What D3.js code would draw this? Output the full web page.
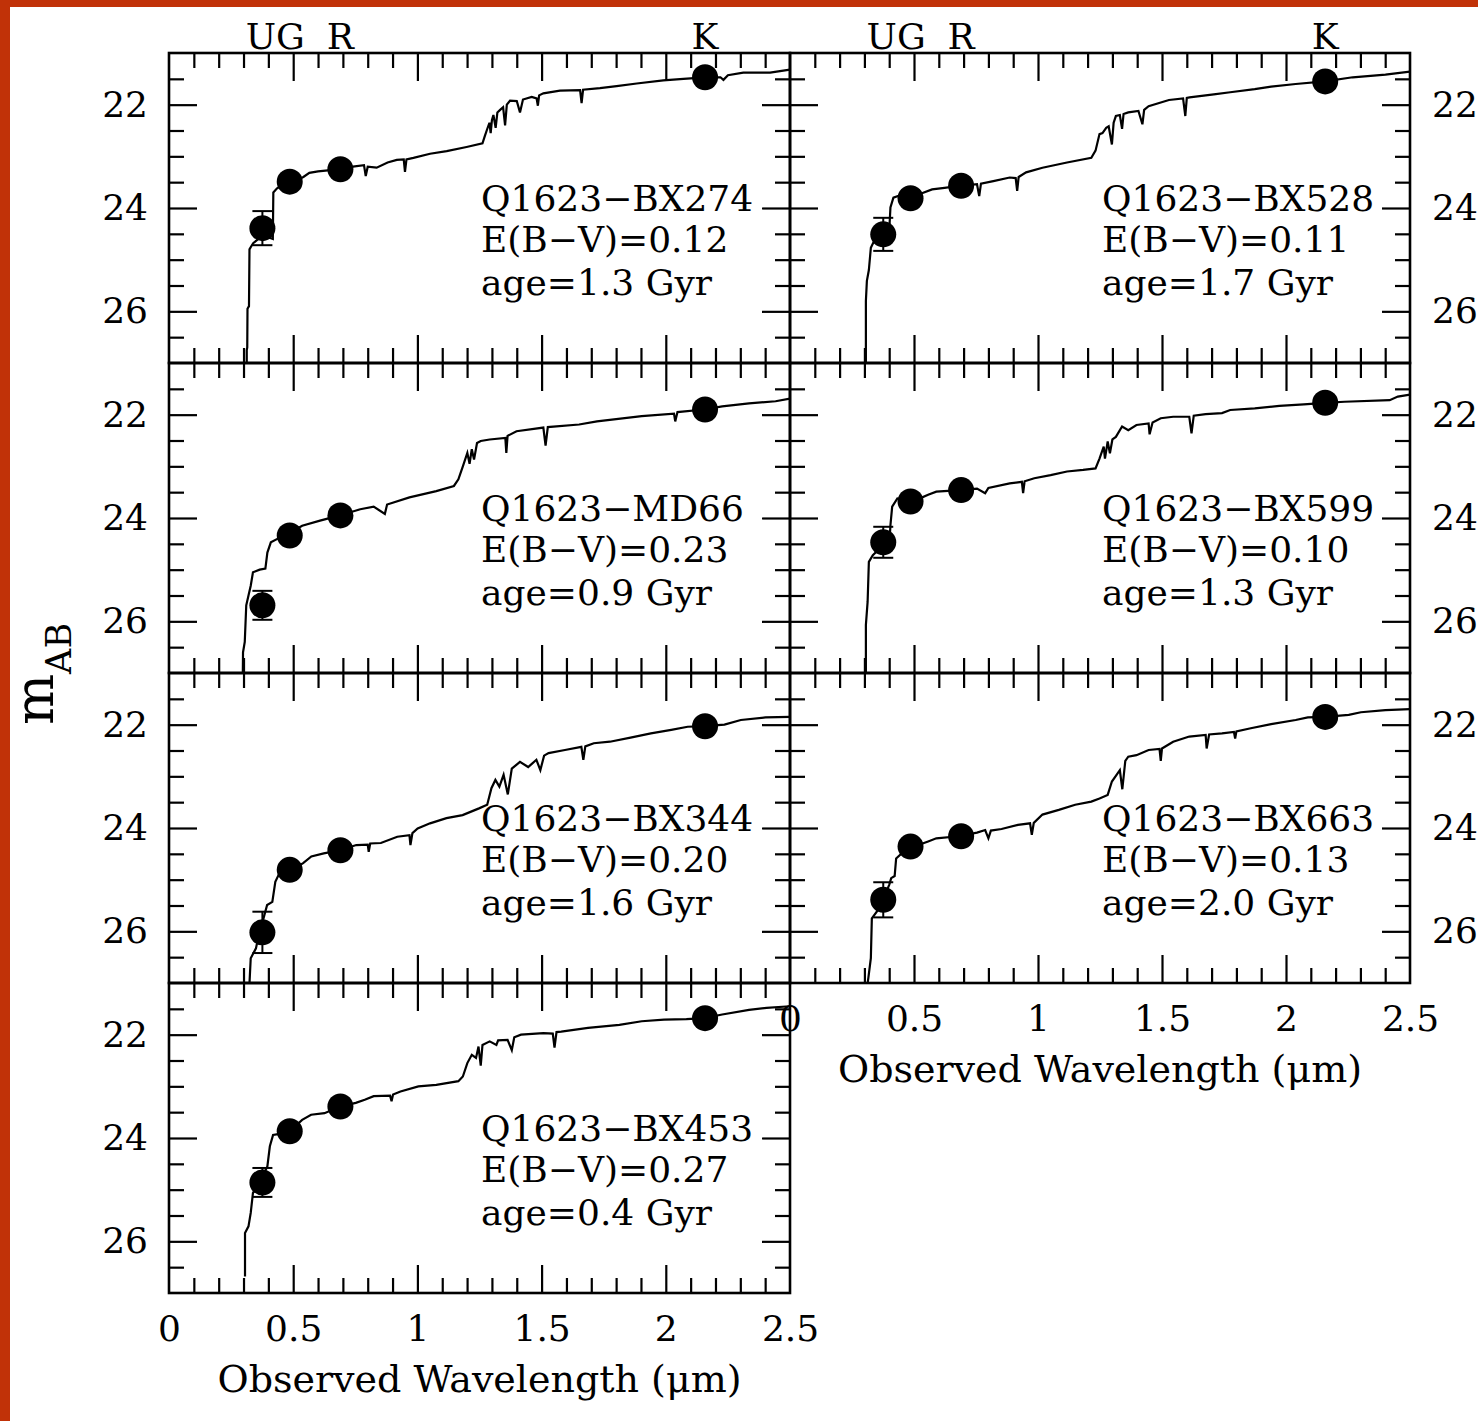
<!DOCTYPE html>
<html>
<head>
<meta charset="utf-8">
<script src="https://cdn.jsdelivr.net/npm/d3@7"></script>
<style>
  html, body { margin: 0; padding: 0; background: #fff; }
  svg { display: block; }
  text { font-family: "DejaVu Serif", serif; fill: #000; }
</style>
</head>
<body>
<svg id="chart" width="1478" height="1421"></svg>
<script>
// ---- Galaxies (one panel each) ----
const galaxyNames = ["Q1623−BX274", "Q1623−BX528", "Q1623−MD66", "Q1623−BX599",
                     "Q1623−BX344", "Q1623−BX663", "Q1623−BX453"];
const ebvValues = [0.12, 0.11, 0.23, 0.10, 0.20, 0.13, 0.27];
const ageGyr    = [1.3, 1.7, 0.9, 1.3, 1.6, 2.0, 0.4];

// ---- Broad-band photometry (AB mag) ----
const filterNames = ["U", "G", "R", "K"];
const filterWave  = [0.376, 0.486, 0.690, 2.158];   // microns
const magU = [24.39, 24.51, 25.69, 24.47, 26.02, 25.39, 24.86];
const errU = [0.33, 0.32, 0.28, 0.30, 0.40, 0.34, 0.28];
const magG = [23.49, 23.81, 24.34, 23.68, 24.81, 24.36, 23.87];
const magR = [23.25, 23.57, 23.95, 23.46, 24.43, 24.16, 23.39];
const magK = [21.47, 21.55, 21.90, 21.77, 22.03, 21.85, 21.68];
const errK = [0.08, 0.08, 0.08, 0.08, 0.08, 0.08, 0.08];

// ---- Best-fit model spectra: [observed wavelength (micron), m_AB] ----
const sedBX274 = [[0.313,27.1],[0.313,26.75],[0.315,26.7],[0.316,25.95],[0.322,25.9],[0.324,24.8],[0.33,24.75],
  [0.339,24.68],[0.36,24.6],[0.39,24.55],[0.418,24.6],[0.42,23.7],[0.435,23.62],[0.46,23.55],[0.49,23.5],
  [0.52,23.45],[0.541,23.4],[0.565,23.32],[0.6,23.29],[0.64,23.27],[0.686,23.25],[0.74,23.2],[0.785,23.17],
  [0.792,23.38],[0.8,23.2],[0.836,23.22],[0.88,23.12],[0.917,23.07],[0.945,23.06],[0.95,23.3],[0.956,23.06],
  [0.984,23.03],[1.051,22.95],[1.118,22.9],[1.198,22.82],[1.262,22.75],[1.272,22.6],[1.279,22.5],[1.29,22.35],
  [1.295,22.55],[1.3,22.3],[1.306,22.2],[1.315,22.45],[1.322,22.15],[1.333,22.1],[1.345,22.05],[1.353,22.4],
  [1.36,22.0],[1.373,21.92],[1.4,21.93],[1.413,22.15],[1.425,21.9],[1.46,21.85],[1.48,21.88],[1.485,22.02],
  [1.49,21.82],[1.507,21.78],[1.574,21.73],[1.655,21.72],[1.661,21.97],[1.667,21.71],[1.735,21.68],
  [1.802,21.64],[1.883,21.59],[1.99,21.53],[2.071,21.5],[2.158,21.47],[2.22,21.47],[2.232,21.52],
  [2.25,21.43],[2.312,21.38],[2.42,21.38],[2.473,21.34],[2.5,21.32]];
const sedBX528 = [[0.306,27.1],[0.306,25.8],[0.31,25.41],[0.318,25.2],[0.326,24.77],[0.343,24.6],[0.37,24.52],
  [0.4,24.45],[0.405,23.99],[0.417,23.8],[0.458,23.73],[0.49,23.76],[0.524,23.73],[0.573,23.64],[0.623,23.61],
  [0.685,23.57],[0.754,23.54],[0.763,23.77],[0.77,23.53],[0.82,23.48],[0.886,23.41],[0.91,23.42],[0.916,23.67],
  [0.922,23.4],[0.952,23.31],[1.018,23.22],[1.117,23.12],[1.215,23.03],[1.232,22.89],[1.248,22.57],[1.26,22.55],
  [1.275,22.45],[1.285,22.42],[1.298,22.77],[1.305,22.35],[1.314,22.22],[1.33,22.2],[1.339,22.47],[1.345,22.18],
  [1.364,22.15],[1.405,22.12],[1.421,22.38],[1.428,22.1],[1.446,22.03],[1.528,21.91],[1.585,21.88],[1.594,22.22],
  [1.6,21.87],[1.611,21.86],[1.709,21.8],[1.775,21.76],[1.874,21.7],[1.94,21.65],[2.039,21.6],[2.157,21.55],
  [2.269,21.47],[2.401,21.42],[2.5,21.36]];
const sedMD66 = [[0.297,27.1],[0.298,26.6],[0.305,26.4],[0.311,25.69],[0.32,25.5],[0.329,25.31],[0.338,25.05],
  [0.365,25.0],[0.388,24.98],[0.396,24.67],[0.41,24.47],[0.446,24.38],[0.49,24.28],[0.536,24.15],[0.608,24.05],
  [0.68,23.96],[0.77,23.83],[0.824,23.78],[0.869,23.92],[0.878,23.74],[0.968,23.6],[1.076,23.48],[1.147,23.38],
  [1.165,23.25],[1.183,23.0],[1.201,22.74],[1.21,22.95],[1.219,22.67],[1.228,22.87],[1.24,22.55],[1.255,22.51],
  [1.291,22.48],[1.354,22.45],[1.358,22.74],[1.363,22.41],[1.399,22.32],[1.507,22.25],[1.516,22.6],[1.525,22.24],
  [1.651,22.19],[1.723,22.13],[1.903,22.03],[2.033,21.98],[2.038,22.13],[2.047,21.95],[2.155,21.9],[2.227,21.84],
  [2.335,21.78],[2.442,21.74],[2.5,21.69]];
const sedBX599 = [[0.306,27.1],[0.306,26.07],[0.313,25.62],[0.318,24.85],[0.334,24.72],[0.36,24.6],[0.4,24.55],
  [0.405,24.14],[0.412,23.78],[0.433,23.62],[0.487,23.66],[0.524,23.62],[0.557,23.55],[0.59,23.49],[0.685,23.46],
  [0.754,23.43],[0.787,23.52],[0.8,23.42],[0.886,23.33],[0.935,23.3],[0.94,23.52],[0.946,23.29],[0.985,23.23],
  [1.051,23.17],[1.117,23.1],[1.182,23.07],[1.232,23.04],[1.248,22.85],[1.265,22.62],[1.27,22.85],[1.281,22.52],
  [1.29,22.75],[1.3,22.48],[1.314,22.43],[1.339,22.23],[1.364,22.3],[1.397,22.2],[1.446,22.17],[1.45,22.38],
  [1.462,22.15],[1.495,22.07],[1.545,22.04],[1.61,22.04],[1.619,22.36],[1.628,22.02],[1.676,21.99],[1.742,21.97],
  [1.775,21.91],[1.874,21.88],[1.973,21.83],[2.072,21.8],[2.157,21.77],[2.236,21.75],[2.418,21.72],[2.451,21.65],
  [2.5,21.61]];
const sedBX344 = [[0.323,27.1],[0.329,26.52],[0.35,26.33],[0.36,26.1],[0.372,25.9],[0.395,25.49],[0.416,25.43],
  [0.428,25.04],[0.441,24.91],[0.487,24.83],[0.54,24.68],[0.573,24.55],[0.623,24.49],[0.688,24.43],[0.754,24.33],
  [0.8,24.32],[0.804,24.46],[0.81,24.3],[0.853,24.29],[0.919,24.17],[0.968,24.14],[0.972,24.33],[0.98,24.1],
  [1.001,24.01],[1.051,23.91],[1.117,23.81],[1.182,23.75],[1.248,23.62],[1.281,23.55],[1.298,23.23],[1.314,23.07],
  [1.33,23.2],[1.347,22.97],[1.364,23.35],[1.38,22.85],[1.413,22.72],[1.446,22.82],[1.479,22.68],[1.495,22.88],
  [1.51,22.6],[1.528,22.55],[1.594,22.49],[1.66,22.43],[1.668,22.68],[1.676,22.42],[1.71,22.36],[1.775,22.33],
  [1.858,22.25],[1.94,22.17],[2.022,22.1],[2.088,22.04],[2.157,22.03],[2.236,22.0],[2.302,21.91],[2.401,21.86],
  [2.5,21.85]];
const sedBX663 = [[0.31,27.1],[0.316,26.9],[0.326,26.52],[0.33,25.75],[0.35,25.62],[0.37,25.45],[0.4,25.1],
  [0.408,24.97],[0.422,24.93],[0.428,24.59],[0.458,24.46],[0.487,24.38],[0.557,24.26],[0.59,24.2],[0.68,24.16],
  [0.754,24.09],[0.787,24.04],[0.8,24.2],[0.81,24.05],[0.853,24.02],[0.919,23.94],[0.968,23.91],[0.975,24.13],
  [0.983,23.9],[1.018,23.74],[1.084,23.65],[1.15,23.55],[1.215,23.49],[1.248,23.43],[1.281,23.36],[1.298,23.1],
  [1.33,22.88],[1.34,23.25],[1.352,22.7],[1.364,22.62],[1.397,22.59],[1.446,22.49],[1.49,22.47],[1.495,22.7],
  [1.5,22.46],[1.545,22.33],[1.61,22.23],[1.676,22.2],[1.68,22.46],[1.69,22.19],[1.742,22.17],[1.79,22.14],
  [1.795,22.27],[1.8,22.13],[1.858,22.07],[1.94,21.99],[2.039,21.91],[2.088,21.86],[2.157,21.85],[2.253,21.81],
  [2.302,21.76],[2.401,21.72],[2.5,21.7]];
const sedBX453 = [[0.306,26.68],[0.306,25.84],[0.32,25.71],[0.329,25.45],[0.338,25.06],[0.36,24.9],[0.396,24.55],
  [0.406,24.16],[0.419,23.94],[0.446,23.92],[0.486,23.87],[0.536,23.65],[0.572,23.55],[0.626,23.52],[0.689,23.39],
  [0.752,23.32],[0.788,23.26],[0.824,23.19],[0.89,23.18],[0.896,23.29],[0.902,23.16],[0.932,23.1],[1.004,23.0],
  [1.076,22.97],[1.165,22.9],[1.183,22.81],[1.201,22.55],[1.219,22.39],[1.236,22.45],[1.246,22.23],[1.255,22.6],
  [1.262,22.2],[1.291,22.13],[1.318,22.2],[1.325,22.11],[1.363,22.1],[1.38,22.3],[1.39,22.05],[1.417,22.0],
  [1.507,21.97],[1.545,21.98],[1.552,22.25],[1.56,21.95],[1.579,21.94],[1.687,21.87],[1.813,21.81],[1.903,21.74],
  [1.993,21.71],[2.083,21.7],[2.155,21.68],[2.227,21.61],[2.335,21.52],[2.406,21.48],[2.5,21.45]];
const spectra = [sedBX274, sedBX528, sedMD66, sedBX599, sedBX344, sedBX663, sedBX453];

// ---- Axis ticks ----
const yMajorTicks = [22, 24, 26];
const yMinorTicks = [21.5, 22.5, 23, 23.5, 24.5, 25, 25.5, 26.5];
const xMajorTicks = [0.5, 1, 1.5, 2];
const xMinorTicks = [0.1,0.2,0.3,0.4,0.6,0.7,0.8,0.9,1.1,1.2,1.3,1.4,1.6,1.7,1.8,1.9,2.1,2.2,2.3,2.4];
const xLabelTicks = [0, 0.5, 1, 1.5, 2, 2.5];

// ---- Layout ----
const W = 1478, H = 1421;
const colLeft = [169, 790], colRight = [790, 1410];
const rowTop = [53, 363, 673, 983], panelH = 310;
const FONT = 36;

const svg = d3.select("#chart");
svg.append("rect").attr("width", W).attr("height", H).attr("fill", "#fff");
// decorative slide edge
svg.append("rect").attr("x", 0).attr("y", 0).attr("width", 10).attr("height", H).attr("fill", "#c13208");
svg.append("rect").attr("x", 0).attr("y", 0).attr("width", W).attr("height", 7).attr("fill", "#c13208");

const defs = svg.append("defs");
const line = d3.line();

function styleAxis(g, size) {
  g.select(".domain").remove();
  g.selectAll(".tick line").attr("stroke", "#000").attr("stroke-width", 2.2);
  g.attr("font-family", null).attr("font-size", size || FONT);
  g.selectAll("text").attr("fill", "#000").style("font-family", '"DejaVu Serif", serif');
}

galaxyNames.forEach((name, i) => {
  const col = i % 2, row = Math.floor(i / 2);
  const x0 = colLeft[col], x1 = colRight[col];
  const top = rowTop[row], bottom = top + panelH;
  const x = d3.scaleLinear().domain([0, 2.5]).range([x0, x1]);
  const y = d3.scaleLinear().domain([21, 27]).range([top, bottom]);
  const g = svg.append("g");

  defs.append("clipPath").attr("id", "clip" + i)
    .append("rect").attr("x", x0).attr("y", top).attr("width", x1 - x0).attr("height", panelH);

  // model spectrum
  g.append("path")
    .attr("clip-path", `url(#clip${i})`)
    .attr("d", line.x(d => x(d[0])).y(d => y(d[1]))(spectra[i]))
    .attr("fill", "none").attr("stroke", "#000").attr("stroke-width", 2.2)
    .attr("stroke-linejoin", "miter");

  // ticks on all four sides, pointing inward
  const addTicks = (axisFn, scale, pos, vals, len, attr) => {
    const a = axisFn(scale).tickValues(vals).tickSize(-len).tickFormat("");
    const ag = g.append("g").attr("transform", attr(pos)).call(a);
    styleAxis(ag);
  };
  const tx = p => `translate(0,${p})`, ty = p => `translate(${p},0)`;
  addTicks(d3.axisBottom, x, bottom, xMinorTicks, 15, tx);
  addTicks(d3.axisBottom, x, bottom, xMajorTicks, 28, tx);
  addTicks(d3.axisTop, x, top, xMinorTicks, 15, tx);
  addTicks(d3.axisTop, x, top, xMajorTicks, 28, tx);
  addTicks(d3.axisLeft, y, x0, yMinorTicks, 15, ty);
  addTicks(d3.axisLeft, y, x0, yMajorTicks, 28, ty);
  addTicks(d3.axisRight, y, x1, yMinorTicks, 15, ty);
  addTicks(d3.axisRight, y, x1, yMajorTicks, 28, ty);

  // frame
  g.append("rect").attr("x", x0).attr("y", top).attr("width", x1 - x0).attr("height", panelH)
    .attr("fill", "none").attr("stroke", "#000").attr("stroke-width", 2.6);

  // y tick labels on the outer side
  const yLab = (col === 0 ? d3.axisLeft(y).tickPadding(21) : d3.axisRight(y).tickPadding(22))
    .tickValues(yMajorTicks).tickSize(0).tickFormat(d3.format("d"));
  styleAxis(g.append("g").attr("transform", `translate(${col === 0 ? x0 : x1},0)`).call(yLab));

  // x tick labels + title under the lowest panel of each column
  if (i === 5 || i === 6) {
    const xLab = d3.axisBottom(x).tickValues(xLabelTicks).tickSize(0).tickPadding(22)
      .tickFormat(d3.format("~g"));
    styleAxis(g.append("g").attr("transform", `translate(0,${bottom})`).call(xLab));
    g.append("text").attr("x", (x0 + x1) / 2).attr("y", bottom + 99)
      .attr("text-anchor", "middle").attr("font-size", 38)
      .text("Observed Wavelength (μm)");
  }

  // filter names above the top row; close neighbours meet at their midpoint
  if (row === 0) {
    const px = filterWave.map(w => x(w));
    filterNames.forEach((f, k) => {
      let ax = px[k], anchor = "middle";
      if (k + 1 < px.length && px[k + 1] - px[k] < 40) { ax = (px[k] + px[k + 1]) / 2; anchor = "end"; }
      else if (k > 0 && px[k] - px[k - 1] < 40) { ax = (px[k] + px[k - 1]) / 2; anchor = "start"; }
      g.append("text").attr("x", ax).attr("y", top - 4)
        .attr("text-anchor", anchor).attr("font-size", 36).text(f);
    });
  }

  // photometry with error bars
  const phot = [[magU[i], errU[i]], [magG[i], 0.06], [magR[i], 0.06], [magK[i], errK[i]]];
  phot.forEach(([m, e], k) => {
    const cx = x(filterWave[k]);
    g.append("line").attr("x1", cx).attr("x2", cx).attr("y1", y(m - e)).attr("y2", y(m + e))
      .attr("stroke", "#000").attr("stroke-width", 2);
    [m - e, m + e].forEach(v => g.append("line").attr("x1", cx - 10).attr("x2", cx + 10)
      .attr("y1", y(v)).attr("y2", y(v)).attr("stroke", "#000").attr("stroke-width", 2));
    g.append("circle").attr("cx", cx).attr("cy", y(m)).attr("r", 13).attr("fill", "#000");
  });

  // panel annotation
  const lines = [name, "E(B−V)=" + d3.format(".2f")(ebvValues[i]), "age=" + d3.format(".1f")(ageGyr[i]) + " Gyr"];
  const offs = [158, 199, 242];
  lines.forEach((t, k) => {
    g.append("text").attr("x", x0 + 312).attr("y", top + offs[k]).attr("font-size", FONT).text(t);
  });
});

// shared y-axis title
const yt = svg.append("text").attr("transform", "translate(53,674) rotate(-90)")
  .attr("text-anchor", "middle");
yt.append("tspan").attr("font-size", 54).text("m");
yt.append("tspan").attr("font-size", 35).attr("dy", 18).text("AB");
</script>
</body>
</html>
